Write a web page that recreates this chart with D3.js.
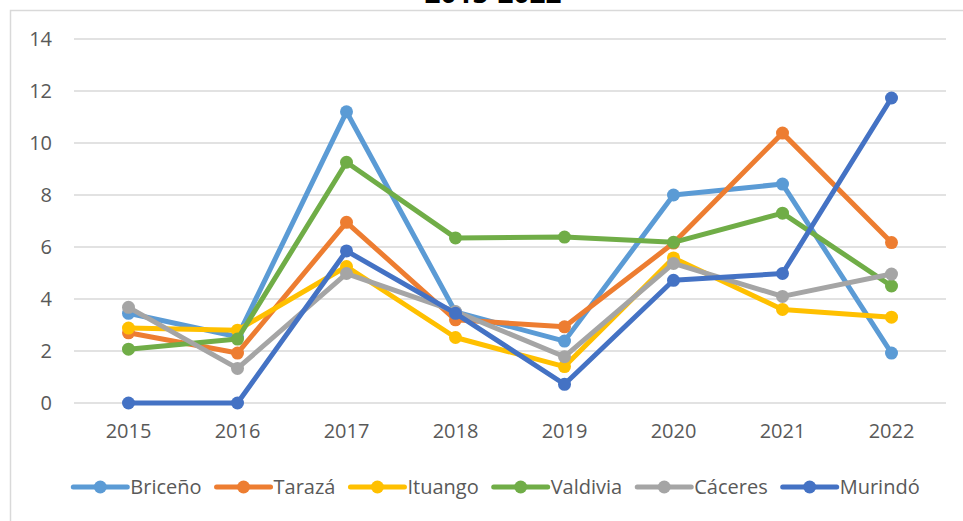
<!DOCTYPE html>
<html>
<head>
<meta charset="utf-8">
<script src="https://cdn.jsdelivr.net/npm/d3@7"></script>
<style>
  body { margin: 0; background: #fff; }
  text { font-family: "Open Sans", "Noto Sans", sans-serif; }
</style>
</head>
<body>
<div id="chart"></div>
<script>
// Data
const years = ["2015", "2016", "2017", "2018", "2019", "2020", "2021", "2022"];
const yTicks = [0, 2, 4, 6, 8, 10, 12, 14];
const seriesNames = ["Briceño", "Tarazá", "Ituango", "Valdivia", "Cáceres", "Murindó"];
const seriesColors = ["#5B9BD5", "#ED7D31", "#FFC000", "#70AD47", "#A5A5A5", "#4472C4"];

const briceno = [3.45, 2.55, 11.2, 3.5, 2.38, 8.0, 8.42, 1.92];
const taraza = [2.7, 1.92, 6.95, 3.2, 2.93, 6.15, 10.38, 6.17];
const ituango = [2.88, 2.8, 5.25, 2.52, 1.4, 5.58, 3.6, 3.3];
const valdivia = [2.07, 2.46, 9.26, 6.35, 6.38, 6.18, 7.3, 4.5];
const caceres = [3.68, 1.33, 4.98, 3.52, 1.78, 5.37, 4.1, 4.96];
const murindo = [0, 0, 5.85, 3.45, 0.72, 4.72, 4.98, 11.73];

const seriesValues = [briceno, taraza, ituango, valdivia, caceres, murindo];

const width = 963;
const height = 521;
const margin = { top: 39, right: 17, bottom: 118, left: 74 };

const svg = d3.select("#chart").append("svg")
    .attr("width", width)
    .attr("height", height);

// chart frame (runs off the picture on the right and bottom)
svg.append("rect")
    .attr("x", 10.5)
    .attr("y", 10.5)
    .attr("width", 990)
    .attr("height", 560)
    .attr("fill", "none")
    .attr("stroke", "#D9D9D9")
    .attr("stroke-width", 1.5);

// title, mostly cut off at the top
svg.append("text")
    .attr("x", 493)
    .attr("y", 3)
    .attr("text-anchor", "middle")
    .attr("font-size", 28)
    .attr("font-weight", "bold")
    .attr("fill", "#000")
    .text("2015-2022");

const xScale = d3.scaleBand()
    .domain(years)
    .range([margin.left, width - margin.right]);

const yScale = d3.scaleLinear()
    .domain([0, 14])
    .range([height - margin.bottom, margin.top]);

// gridlines
svg.append("g")
    .selectAll("line")
    .data(yTicks)
    .enter()
    .append("line")
    .attr("x1", margin.left)
    .attr("x2", width - margin.right)
    .attr("y1", d => yScale(d))
    .attr("y2", d => yScale(d))
    .attr("stroke", "#D9D9D9")
    .attr("stroke-width", 1.5);

// y axis labels
const yAxis = d3.axisLeft(yScale).tickValues(yTicks).tickSize(0).tickPadding(0);
const yG = svg.append("g")
    .attr("transform", `translate(52, 0)`)
    .call(yAxis);
yG.select(".domain").remove();
yG.selectAll("text")
    .attr("font-size", 20)
    .attr("fill", "#595959")
    .attr("font-family", "Open Sans, Noto Sans, sans-serif");

// x axis labels
const xAxis = d3.axisBottom(xScale).tickSize(0).tickPadding(0);
const xG = svg.append("g")
    .attr("transform", `translate(0, ${yScale(0) + 21})`)
    .call(xAxis);
xG.select(".domain").remove();
xG.selectAll("text")
    .attr("font-size", 20)
    .attr("fill", "#595959")
    .attr("font-family", "Open Sans, Noto Sans, sans-serif");

// lines and markers
const line = d3.line()
    .x((d, i) => xScale(years[i]) + xScale.bandwidth() / 2)
    .y(d => yScale(d));

seriesValues.forEach((vals, s) => {
    const g = svg.append("g");
    g.append("path")
        .datum(vals)
        .attr("fill", "none")
        .attr("stroke", seriesColors[s])
        .attr("stroke-width", 5)
        .attr("stroke-linejoin", "round")
        .attr("stroke-linecap", "round")
        .attr("d", line);
    g.selectAll("circle")
        .data(vals)
        .enter()
        .append("circle")
        .attr("cx", (d, i) => xScale(years[i]) + xScale.bandwidth() / 2)
        .attr("cy", d => yScale(d))
        .attr("r", 6.5)
        .attr("fill", seriesColors[s]);
});

// legend
const legendY = 487;
const legend = svg.append("g");
let lx = 0;
seriesNames.forEach((name, s) => {
    const item = legend.append("g").attr("transform", `translate(${lx}, ${legendY})`);
    item.append("line")
        .attr("x1", 2).attr("x2", 56)
        .attr("y1", 0).attr("y2", 0)
        .attr("stroke", seriesColors[s])
        .attr("stroke-width", 5)
        .attr("stroke-linecap", "round");
    item.append("circle")
        .attr("cx", 29).attr("cy", 0).attr("r", 6.5)
        .attr("fill", seriesColors[s]);
    const t = item.append("text")
        .attr("x", 59)
        .attr("y", 7)
        .attr("font-size", 20)
        .attr("fill", "#595959")
        .text(name);
    lx += 59 + t.node().getComputedTextLength() + 13;
});
const legendWidth = lx - 13;
legend.attr("transform", `translate(${495.5 - legendWidth / 2}, 0)`);
</script>
</body>
</html>
